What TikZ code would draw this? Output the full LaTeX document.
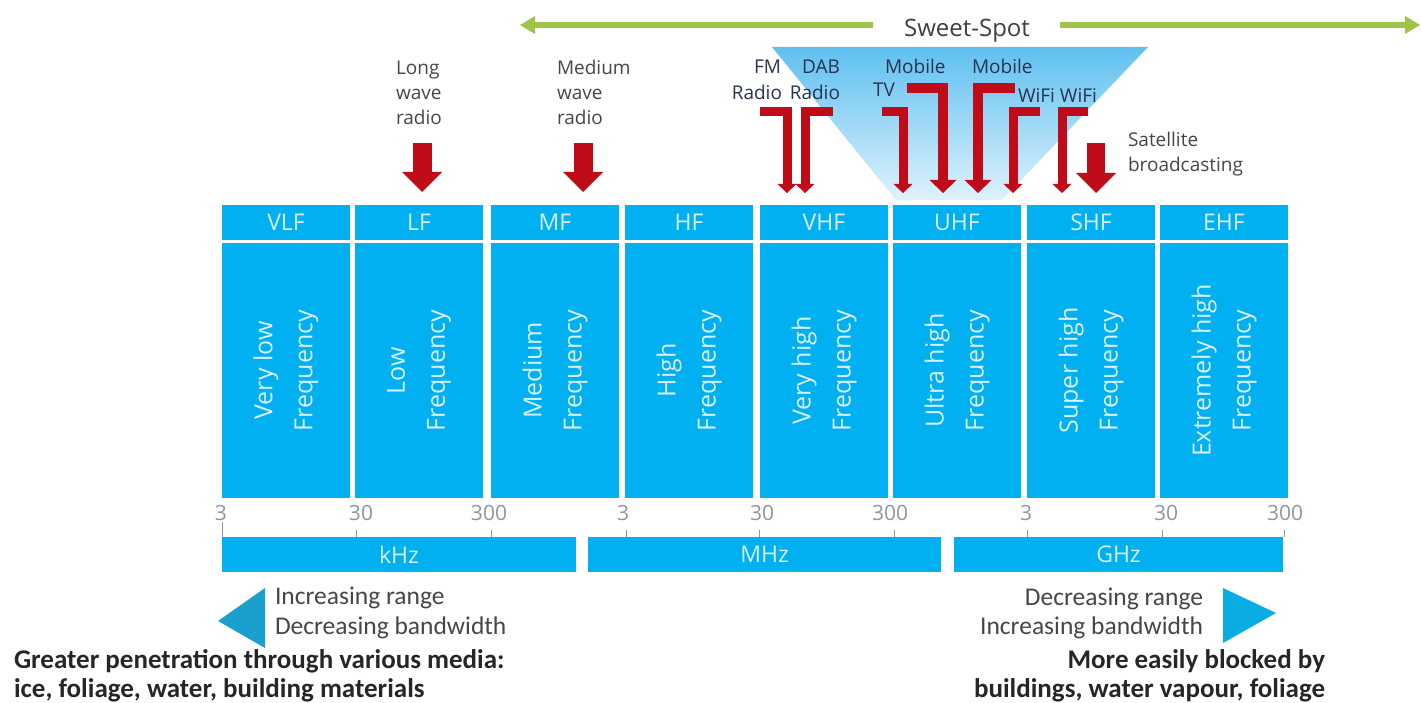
\documentclass[tikz,border=0pt]{standalone}
\usepackage{fontspec}
\setmainfont{Open Sans}
\newfontfamily\carl{Carlito}
\usetikzlibrary{arrows.meta}
\definecolor{bandblue}{RGB}{0,176,240}
\definecolor{bandtext}{RGB}{215,240,252}
\definecolor{arrowred}{RGB}{192,12,24}
\definecolor{sweetgreen}{RGB}{160,196,72}
\definecolor{labelgray}{RGB}{70,70,70}
\definecolor{labelnavy}{RGB}{40,52,78}
\definecolor{scalegray}{RGB}{140,150,158}
\definecolor{tealA}{RGB}{25,160,205}
\definecolor{tealB}{RGB}{10,172,228}
\definecolor{sweetblue}{RGB}{95,192,240}
\definecolor{sweetfade}{RGB}{222,242,252}
\definecolor{boldtext}{RGB}{38,38,38}
\newcommand{\fs}[2]{\fontsize{#1}{#2}\selectfont}
\begin{document}
\begin{tikzpicture}[x=1pt,y=-1pt,
  every node/.style={inner sep=0pt, outer sep=0pt},
  bandlab/.style={fill=bandblue, text=bandtext, minimum height=35pt, minimum width=128pt, font=\fs{23}{28}},
  bandbody/.style={fill=bandblue, text=bandtext, rotate=90, minimum width=255pt, minimum height=128pt, align=center, font=\fs{25}{40}},
  unitbar/.style={fill=bandblue, text=bandtext, minimum height=35pt, font=\fs{23}{28}},
  scalenum/.style={text=scalegray, font=\fs{21}{25}, anchor=base},
  scaletick/.style={draw=scalegray, line width=1pt},
  toplabel/.style={text=labelgray, font=\fs{19}{25}},
  sslabel/.style={text=labelnavy, font=\fs{19}{25}},
  smallL/.style={draw=arrowred, line width=9pt, line join=miter, -{Triangle[width=19pt,length=9pt,line width=0pt]}},
  bigL/.style={draw=arrowred, line width=10pt, line join=miter, -{Triangle[width=27pt,length=13pt,line width=0pt]}},
  fatarrow/.style={draw=arrowred, line width=19pt, -{Triangle[width=40pt,length=20pt,line width=0pt]}},
  greenarrow/.style={draw=sweetgreen, line width=6pt, -{Triangle[width=18pt,length=15pt,line width=0pt]}},
  note/.style={text=labelgray, font=\carl\fs{25.5}{30}},
  boldnote/.style={text=boldtext, font=\carl\bfseries\fs{27}{30}}
]
\useasboundingbox (0,0) rectangle (1421,703);

% sweet spot triangle
\shade[top color=sweetblue, bottom color=sweetfade] (772,47) -- (1148,47) -- (1002,200) -- (896,200) -- cycle;

% sweet spot label and green arrows
\node[font=\fs{24}{28}, text=labelgray!90!black, anchor=base] (sweet) at (967,37) {Sweet-Spot};
\coordinate (gLs) at (873,25); \coordinate (gLe) at (520,25);
\coordinate (gRs) at (1060,25); \coordinate (gRe) at (1420,25);
\draw[greenarrow] (gLs) -- (gLe);
\draw[greenarrow] (gRs) -- (gRe);

% frequency bands
\foreach \x/\k/\n/\a in {
 222/vlf/VLF/Very low,
 355/lf/LF/Low,
 491/mf/MF/Medium,
 625/hf/HF/High,
 760/vhf/VHF/Very high,
 893/uhf/UHF/Ultra high,
 1027/shf/SHF/Super high,
 1160/ehf/EHF/Extremely high}{
  \node[bandlab] (\k-lab) at (\x+64,222.5) {\n};
  \node[bandbody] (\k-body) at (\x+64,370.5) {\a\\Frequency};
}

% scale
\foreach \x/\t/\k in {221/3/a,361/30/b,489/300/c,623/3/d,762/30/e,890/300/f,1026/3/g,1166/30/h,1285/300/i}{
  \node[scalenum] (num-\k) at (\x,520) {\t};
}
\draw[scaletick] (222,522) -- (222,537);
\foreach \x in {356,491,626,759,894,1027,1162,1284}{
  \draw[scaletick] (\x,530) -- (\x,537);
}
\node[unitbar, minimum width=354pt] (khz) at (399,554.5) {kHz};
\node[unitbar, minimum width=353pt] (mhz) at (764.5,554.5) {MHz};
\node[unitbar, minimum width=329pt] (ghz) at (1118.5,554.5) {GHz};

% top labels
\node[toplabel, anchor=base west] (lw1) at (396,75) {Long};
\node[toplabel, anchor=base west] (lw2) at (396,100) {wave};
\node[toplabel, anchor=base west] (lw3) at (396,125) {radio};
\node[toplabel, anchor=base west] (mw1) at (557,75) {Medium};
\node[toplabel, anchor=base west] (mw2) at (557,100) {wave};
\node[toplabel, anchor=base west] (mw3) at (557,125) {radio};
\node[sslabel, anchor=base east] (fm1) at (781,74) {FM};
\node[sslabel, anchor=base east] (fm2) at (782,100) {Radio};
\node[sslabel, anchor=base east] (dab1) at (840,74) {DAB};
\node[sslabel, anchor=base east] (dab2) at (840,100) {Radio};
\node[sslabel, anchor=base west] (mtv1) at (885,74) {Mobile};
\node[sslabel, anchor=base west] (mtv2) at (873,97) {TV};
\node[sslabel, anchor=base west] (mob) at (972,74) {Mobile};
\node[sslabel, anchor=base west] (wifi) at (1018,103) {WiFi WiFi};
\node[toplabel, anchor=base west] (sat1) at (1128,147) {Satellite};
\node[toplabel, anchor=base west] (sat2) at (1128,172) {broadcasting};

% red arrows
\coordinate (lwS) at (422,143); \coordinate (lwE) at (422,192);
\coordinate (mwS) at (583,143); \coordinate (mwE) at (583,192);
\coordinate (satS) at (1096,143); \coordinate (satE) at (1096,193);
\draw[fatarrow] (lwS) -- (lwE);
\draw[fatarrow] (mwS) -- (mwE);
\draw[fatarrow, line width=18pt] (satS) -- (satE);

\coordinate (fmS) at (760,112); \coordinate (fmE) at (787,193);
\coordinate (dabS) at (833,112); \coordinate (dabE) at (805,193);
\coordinate (tvS) at (882,112); \coordinate (tvE) at (903,193);
\coordinate (tvbS) at (907,88); \coordinate (tvbE) at (943,193);
\coordinate (mobS) at (1015,88); \coordinate (mobE) at (978,193);
\coordinate (wfaS) at (1040,112); \coordinate (wfaE) at (1013,193);
\coordinate (wfbS) at (1088,112); \coordinate (wfbE) at (1062,193);
\draw[smallL] (fmS) -| (fmE);
\draw[smallL] (dabS) -| (dabE);
\draw[smallL] (tvS) -| (tvE);
\draw[bigL] (tvbS) -| (tvbE);
\draw[bigL] (mobS) -| (mobE);
\draw[smallL] (wfaS) -| (wfaE);
\draw[smallL] (wfbS) -| (wfbE);

% bottom
\fill[tealA] (218,621) -- (265,588) -- (265,648) -- cycle;
\fill[tealB] (1223,588) -- (1223,643) -- (1276,613) -- cycle;
\node[note, anchor=base west] (incr) at (275,604) {Increasing range};
\node[note, anchor=base west] (decb) at (275,634) {Decreasing bandwidth};
\node[note, anchor=base east] (decr) at (1203,605) {Decreasing range};
\node[note, anchor=base east] (incb) at (1203,634) {Increasing bandwidth};
\node[boldnote, anchor=base west] (pen1) at (14,668) {Greater penetration through various media:};
\node[boldnote, anchor=base west] (pen2) at (14,697) {ice, foliage, water, building materials};
\node[boldnote, anchor=base east] (blk1) at (1325,668) {More easily blocked by};
\node[boldnote, anchor=base east] (blk2) at (1325,697) {buildings, water vapour, foliage};
\end{tikzpicture}
\end{document}
